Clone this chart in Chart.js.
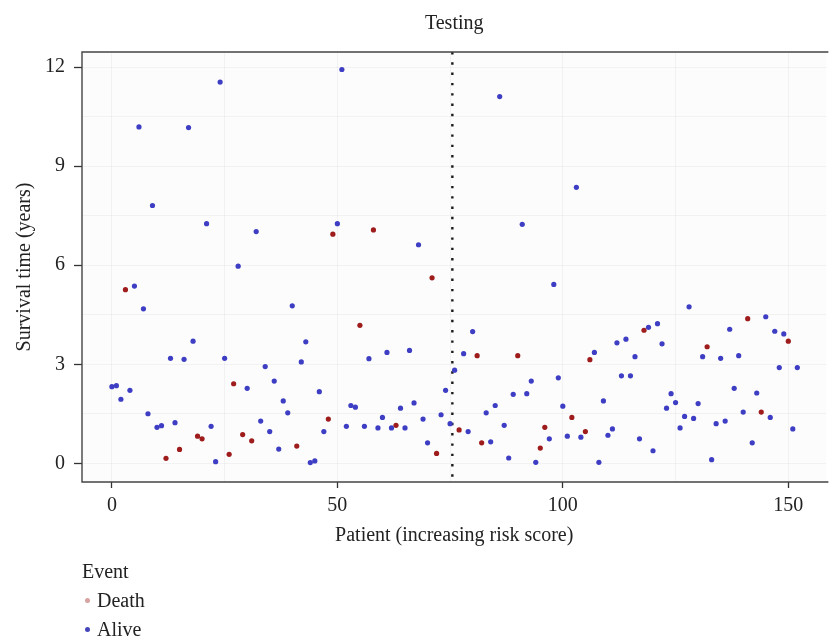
<!DOCTYPE html>
<html><head><meta charset="utf-8">
<script src="https://cdn.jsdelivr.net/npm/chart.js@4.4.1/dist/chart.umd.min.js"></script>
<style>
html,body{margin:0;padding:0;background:#fff;}
#wrap{position:relative;width:829px;height:642px;overflow:hidden;}
canvas{position:absolute;left:0;top:0;}
.lg{position:absolute;font-family:'Liberation Serif',serif;font-size:20px;line-height:24px;color:#222;white-space:nowrap;}
.dot{position:absolute;width:5px;height:5px;border-radius:50%;}
</style></head><body>
<div id="wrap"><canvas id="c" width="829" height="642"></canvas><div id="legend"></div></div>
<script>
// ---- data ----
const survivalYears = [
 2.32,2.35,1.94,5.26,2.21,5.37,10.19,4.68,1.50,7.81,
 1.09,1.14,0.15,3.18,1.23,0.42,3.15,10.17,3.70,0.82,
 0.74,7.26,1.12,0.05,11.55,3.18,0.27,2.41,5.97,0.87,
 2.27,0.68,7.02,1.28,2.93,0.96,2.49,0.43,1.89,1.53,
 4.77,0.52,3.07,3.68,0.02,0.07,2.17,0.96,1.34,6.94,
 7.26,11.93,1.12,1.75,1.70,4.18,1.12,3.17,7.07,1.07,
 1.39,3.36,1.07,1.15,1.67,1.07,3.42,1.83,6.62,1.34,
 0.62,5.62,0.30,1.47,2.21,1.20,2.82,1.01,3.32,0.96,
 3.99,3.26,0.62,1.53,0.65,1.75,11.11,1.15,0.16,2.09,
 3.26,7.24,2.11,2.49,0.03,0.46,1.09,0.74,5.42,2.59,
 1.73,0.82,1.39,8.36,0.79,0.96,3.14,3.36,0.03,1.89,
 0.85,1.04,3.65,2.65,3.76,2.65,3.23,0.74,4.03,4.12,
 0.38,4.23,3.62,1.67,2.11,1.84,1.07,1.42,4.74,1.36,
 1.81,3.23,3.53,0.11,1.20,3.18,1.28,4.06,2.27,3.26,
 1.55,4.38,0.62,2.13,1.55,4.44,1.39,4.00,2.90,3.92,
 3.70,1.04,2.90
];
// 1 = Death, 0 = Alive
const died = [
 0,0,0,1,0,0,0,0,0,0,
 0,0,1,0,0,1,0,0,0,1,
 1,0,0,0,0,0,1,1,0,1,
 0,1,0,0,0,0,0,0,0,0,
 0,1,0,0,0,0,0,0,1,1,
 0,0,0,0,0,1,0,0,1,0,
 0,0,0,1,0,0,0,0,0,0,
 0,1,1,0,0,0,0,1,0,0,
 0,1,1,0,0,0,0,0,0,0,
 1,0,0,0,0,1,1,0,0,0,
 0,0,1,0,0,1,1,0,0,0,
 0,0,0,0,0,0,0,0,1,0,
 0,0,0,0,0,0,0,0,0,0,
 0,0,1,0,0,0,0,0,0,0,
 0,1,0,0,1,0,0,0,0,0,
 1,0,0
];
const patients = survivalYears.map((_, i) => i);
const cutoffPatient = [75.5];
const eventLabels = ['Death', 'Alive'];
const xTickLabels = [0, 50, 100, 150];
const yTickLabels = [0, 3, 6, 9, 12];

// ---- styling ----
const FONT = "'Liberation Serif', 'Times New Roman', serif";
const TXT = '#222';
const pointColors = {Death: '#9e1c1c', Alive: '#3e3ec4'};
const legendColors = {Death: '#d6a2a2', Alive: '#4646bb'};
const X_MIN = -6.63, X_MAX = 158.45, Y_MIN = -0.567, Y_MAX = 12.46;

const deathPts = patients.filter(i => died[i] === 1).map(i => ({x: patients[i], y: survivalYears[i]}));
const alivePts = patients.filter(i => died[i] === 0).map(i => ({x: patients[i], y: survivalYears[i]}));

const panel = {
  id: 'panel',
  beforeDraw(chart) {
    const {ctx, chartArea: a} = chart;
    ctx.save(); ctx.fillStyle = '#fcfcfc';
    ctx.fillRect(a.left, a.top, a.right - a.left, a.bottom - a.top); ctx.restore();
  },
  afterDraw(chart) {
    const {ctx, chartArea: a} = chart;
    ctx.save(); ctx.strokeStyle = '#444'; ctx.lineWidth = 1.4;
    ctx.beginPath();
    ctx.moveTo(a.right + 2, a.top); ctx.lineTo(a.left, a.top);
    ctx.lineTo(a.left, a.bottom); ctx.lineTo(a.right + 2, a.bottom);
    ctx.stroke(); ctx.restore();
  }
};

new Chart(document.getElementById('c'), {
  type: 'scatter',
  data: {
    datasets: [
      {label: eventLabels[1], data: alivePts, backgroundColor: pointColors.Alive, borderWidth: 0, pointRadius: 2.6, pointHoverRadius: 2.6},
      {label: eventLabels[0], data: deathPts, backgroundColor: pointColors.Death, borderWidth: 0, pointRadius: 2.6, pointHoverRadius: 2.6},
      {label: 'cutoff', type: 'line', data: [{x: cutoffPatient[0], y: Y_MAX}, {x: cutoffPatient[0], y: Y_MIN}],
       borderColor: '#1a1a1a', borderWidth: 2.4, borderDash: [2.4, 7.9], borderCapStyle: 'butt',
       pointRadius: 0, pointHoverRadius: 0, fill: false}
    ]
  },
  options: {
    responsive: false, animation: false,
    layout: {padding: {left: 0, right: 0, top: 0, bottom: 94}},
    plugins: {
      legend: {display: false}, tooltip: {enabled: false},
      title: {display: true, fullSize: false, text: 'Testing', color: TXT, font: {family: FONT, size: 20, weight: 'normal'}, padding: {top: 12, bottom: 16}}
    },
    scales: {
      x: {
        type: 'linear', min: X_MIN, max: X_MAX,
        afterFit: s => { s.height = 66; },
        border: {display: false},
        grid: {color: 'rgba(0,0,0,0.04)', lineWidth: 1, tickLength: 6, tickWidth: 1.3,
               tickColor: c => (c.tick && xTickLabels.some(t => Math.abs(t - c.tick.value) < 1e-6)) ? '#333' : 'rgba(0,0,0,0)'},
        ticks: {stepSize: 25, includeBounds: false, autoSkip: false, maxRotation: 0, padding: 6,
                color: TXT, font: {family: FONT, size: 20},
                callback: v => xTickLabels.some(t => Math.abs(t - v) < 1e-6) ? String(v) : ''},
        title: {display: true, text: 'Patient (increasing risk score)', color: TXT, font: {family: FONT, size: 20}, padding: {top: 0, bottom: 0}}
      },
      y: {
        type: 'linear', min: Y_MIN, max: Y_MAX,
        afterFit: s => { s.width = 82; },
        border: {display: false},
        grid: {color: 'rgba(0,0,0,0.04)', lineWidth: 1, tickLength: 8, tickWidth: 1.3,
               tickColor: c => (c.tick && yTickLabels.some(t => Math.abs(t - c.tick.value) < 1e-6)) ? '#333' : 'rgba(0,0,0,0)'},
        ticks: {stepSize: 1.5, includeBounds: false, autoSkip: false, padding: 9,
                color: TXT, font: {family: FONT, size: 20},
                callback: v => yTickLabels.some(t => Math.abs(t - v) < 1e-6) ? String(Math.round(v)) : ''},
        title: {display: true, text: 'Survival time (years)', color: TXT, font: {family: FONT, size: 20}, padding: {top: 13, bottom: 0}}
      }
    }
  },
  plugins: [panel]
});

// HTML legend
const lg = document.getElementById('legend');
const title = document.createElement('div');
title.className = 'lg'; title.style.left = '82px'; title.style.top = '559px'; title.textContent = 'Event';
lg.appendChild(title);
eventLabels.forEach((name, k) => {
  const top = 588 + k * 29;
  const d = document.createElement('div');
  d.className = 'dot'; d.style.background = legendColors[name];
  d.style.left = '84.5px'; d.style.top = (top + 10) + 'px';
  lg.appendChild(d);
  const t = document.createElement('div');
  t.className = 'lg'; t.style.left = '97px'; t.style.top = top + 'px'; t.textContent = name;
  lg.appendChild(t);
});
</script>
</body></html>
